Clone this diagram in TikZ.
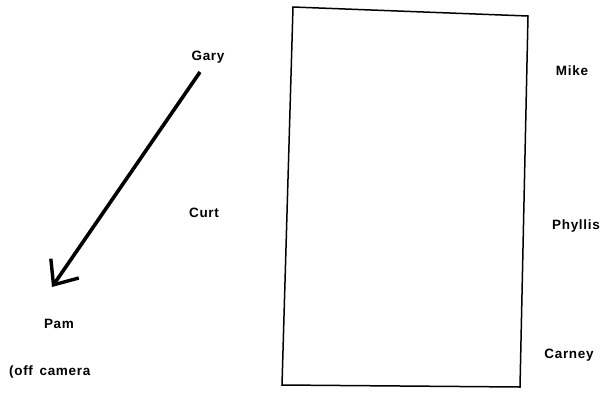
\documentclass[tikz,border=0pt]{standalone}
\usepackage{fontspec}
\setmainfont{Liberation Sans}[LetterSpace=5]
\usetikzlibrary{arrows.meta}
\begin{document}
\begin{tikzpicture}[x=1pt,y=-1pt,
  lbl/.style={font=\fontsize{13.5}{16}\selectfont\bfseries, inner sep=0pt, anchor=center},
  box/.style={draw=black, line width=1.5pt, line join=miter},
  arr/.style={line width=3.6pt, -{Straight Barb[length=20pt,width=34pt,line width=3.4pt]}}]
\useasboundingbox (0,0) rectangle (613,392);
\fill[white] (0,0) rectangle (613,392);
\coordinate (tl) at (293,7);
\coordinate (tr) at (528,16);
\coordinate (br) at (520,387);
\coordinate (bl) at (282,385);
\draw[box] (tl) -- (tr) -- (br) -- (bl) -- cycle;
\node[lbl] (gary) at (208,57) {Gary};
\node[lbl] (curt) at (204,213) {Curt};
\node[lbl] (pam) at (59,324) {Pam};
\node[lbl, anchor=west] (off) at (9,372) {(off\, camera};
\node[lbl] (mike) at (572,71) {Mike};
\node[lbl] (phyllis) at (576,226) {Phyllis};
\node[lbl] (carney) at (569,355) {Carney};
\coordinate (a0) at (200,72);
\coordinate (a1) at (52,287);
\draw[arr] (a0) -- (a1);
\end{tikzpicture}
\end{document}
